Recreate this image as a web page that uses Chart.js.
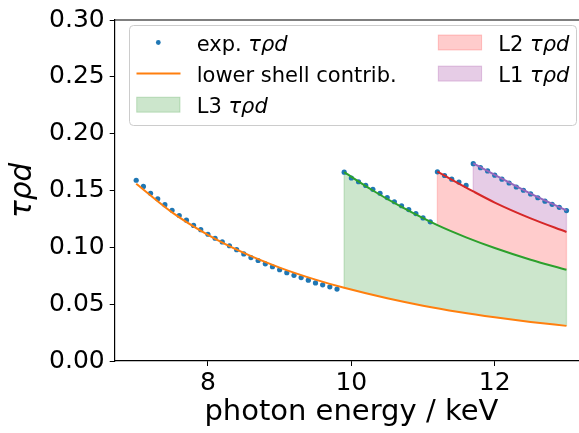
<!DOCTYPE html>
<html>
<head>
<meta charset="utf-8">
<script src="https://cdn.jsdelivr.net/npm/chart.js@4.4.1/dist/chart.umd.min.js"></script>
<style>
html, body { margin: 0; padding: 0; overflow: hidden; background: #fff; }
#wrap { width: 600px; height: 433px; }
</style>
</head>
<body>
<div id="wrap"><canvas id="chart" width="600" height="433"></canvas></div>
<script>
// measured tau*rho*d, photon energy in keV
const expEnergy = [
    7.0, 7.1, 7.2, 7.3, 7.4, 7.5, 7.6, 7.7, 7.8, 7.9,
    8.0, 8.1, 8.2, 8.3, 8.4, 8.5, 8.6, 8.7, 8.8, 8.9,
    9.0, 9.1, 9.2, 9.3, 9.4, 9.5, 9.6, 9.7, 9.8,
    9.9, 10.0, 10.1, 10.2, 10.3, 10.4, 10.5, 10.6, 10.7, 10.8, 10.9, 11.0, 11.1,
    11.2, 11.3, 11.4, 11.5, 11.6,
    11.7, 11.8, 11.9, 12.0, 12.1, 12.2, 12.3, 12.4, 12.5, 12.6, 12.7, 12.8, 12.9, 13.0
];
const expTau = [
    0.159, 0.1536, 0.1476, 0.1427, 0.1375, 0.1326, 0.128, 0.1239, 0.1193, 0.1155,
    0.1115, 0.108, 0.1048, 0.1014, 0.0979, 0.0942, 0.091, 0.0884, 0.0855, 0.0829,
    0.0803, 0.0777, 0.0754, 0.0734, 0.0711, 0.0687, 0.067, 0.0653, 0.0633,
    0.1661, 0.161, 0.1577, 0.1545, 0.151, 0.1476, 0.1438, 0.1401, 0.1366, 0.1332, 0.1297, 0.1259, 0.1224,
    0.1664, 0.1632, 0.16, 0.1574, 0.1545,
    0.1736, 0.1701, 0.1672, 0.1635, 0.16, 0.1566, 0.1531, 0.1502, 0.147, 0.1436, 0.1406, 0.1378, 0.1352, 0.1323
];

// model curves
const lowerE = [7.0, 7.5, 8.0, 8.5, 9.0, 9.5, 9.9, 10.5, 11.0, 11.5, 12.0, 12.5, 13.0];
const lowerTau = [0.156, 0.1308, 0.111, 0.0951, 0.0822, 0.0716, 0.0644, 0.0552, 0.0487, 0.0432, 0.0385, 0.0344, 0.0309];
const l3E = [9.9, 10.3, 10.7, 11.2, 11.6, 12.0, 12.5, 13.0];
const l3Tau = [0.1661, 0.150, 0.1355, 0.1195, 0.1088, 0.0994, 0.0891, 0.0803];
const l2E = [11.2, 11.7, 12.0, 12.5, 13.0];
const l2Tau = [0.1666, 0.1492, 0.1394, 0.1255, 0.1135];
const l1E = [11.7, 12.0, 12.5, 13.0];
const l1Tau = [0.1739, 0.1638, 0.1473, 0.1325];

const xTicks = [8, 10, 12];
const yTicks = [0, 0.05, 0.10, 0.15, 0.20, 0.25, 0.30];

const FONT = 'DejaVu Sans';

function pts(xs, ys) {
    return xs.map((x, i) => ({ x: x, y: ys[i] }));
}

function curve(xs, ys, color, fillTo, fillColor, order) {
    return {
        data: pts(xs, ys),
        showLine: true,
        borderColor: color,
        borderWidth: 2,
        pointRadius: 0,
        cubicInterpolationMode: 'monotone',
        fill: fillTo,
        backgroundColor: fillColor,
        order: order
    };
}

// edges of the filled bands (fill_between draws an outline)
const bandEdges = {
    id: 'bandEdges',
    beforeDatasetsDraw(chart) {
        const ctx = chart.ctx;
        const xs = chart.scales.x, ys = chart.scales.y;
        const pairs = [[3, 4], [2, 3], [1, 2]];
        ctx.save();
        for (const [up, lo] of pairs) {
            const upData = chart.data.datasets[up].data;
            const loData = chart.data.datasets[lo].data;
            ctx.strokeStyle = chart.data.datasets[up].backgroundColor;
            ctx.lineWidth = 1.3;
            for (const p of [upData[0], upData[upData.length - 1]]) {
                const q = loData.find(d => Math.abs(d.x - p.x) < 1e-9);
                if (!q) continue;
                const px = xs.getPixelForValue(p.x);
                ctx.beginPath();
                ctx.moveTo(px, ys.getPixelForValue(p.y));
                ctx.lineTo(px, ys.getPixelForValue(q.y));
                ctx.stroke();
            }
        }
        ctx.restore();
    }
};

function drawLabel(ctx, x, y, plain, italic) {
    ctx.font = '21px "' + FONT + '"';
    ctx.fillText(plain, x, y);
    const w = ctx.measureText(plain).width;
    if (italic) {
        ctx.font = 'italic 21px "' + FONT + '"';
        ctx.fillText(italic, x + w, y);
    }
}

const boxLegend = {
    id: 'boxLegend',
    afterDraw(chart) {
        const ctx = chart.ctx;
        const area = chart.chartArea;
        ctx.save();
        // top spine
        ctx.strokeStyle = '#000';
        ctx.lineWidth = 1.2;
        ctx.beginPath();
        ctx.moveTo(area.left, area.top);
        ctx.lineTo(area.right, area.top);
        ctx.lineTo(area.right, area.bottom);
        ctx.stroke();

        ctx.beginPath();
        ctx.roundRect(129.5, 25.5, 447, 100, 4);
        ctx.fillStyle = 'rgba(255,255,255,0.8)';
        ctx.fill();
        ctx.strokeStyle = '#cccccc';
        ctx.lineWidth = 1;
        ctx.stroke();

        const rows = [50.5, 81.6, 112.7];
        ctx.fillStyle = '#000';
        ctx.textBaseline = 'alphabetic';
        ctx.textAlign = 'left';

        // exp points
        ctx.fillStyle = '#1f77b4';
        ctx.beginPath();
        ctx.arc(158.3, rows[0] - 8, 2.4, 0, Math.PI * 2);
        ctx.fill();
        ctx.fillStyle = '#000';
        drawLabel(ctx, 196.7, rows[0], 'exp. ', 'τρd');

        // lower shell line
        ctx.strokeStyle = '#ff7f0e';
        ctx.lineWidth = 2;
        ctx.beginPath();
        ctx.moveTo(136.5, rows[1] - 8);
        ctx.lineTo(180.5, rows[1] - 8);
        ctx.stroke();
        drawLabel(ctx, 196.7, rows[1], 'lower shell contrib.', '');

        const patches = [
            [136.7, rows[2], 'rgba(0,128,0,0.2)', 'L3 '],
            [438.3, rows[0], 'rgba(255,0,0,0.2)', 'L2 '],
            [438.3, rows[1], 'rgba(128,0,128,0.2)', 'L1 ']
        ];
        for (const [x, y, c, t] of patches) {
            ctx.fillStyle = c;
            ctx.fillRect(x, y - 15.5, 43.3, 15);
            ctx.strokeStyle = c;
            ctx.lineWidth = 1;
            ctx.strokeRect(x, y - 15.5, 43.3, 15);
            ctx.fillStyle = '#000';
            drawLabel(ctx, x + 60, y, t, 'τρd');
        }
        ctx.restore();
    }
};

document.addEventListener('DOMContentLoaded', function () {
    const ctx = document.getElementById('chart').getContext('2d');
    new Chart(ctx, {
        type: 'scatter',
        data: {
            datasets: [
                {
                    data: pts(expEnergy, expTau),
                    showLine: false,
                    pointRadius: 2.6,
                    pointBorderWidth: 0,
                    pointBackgroundColor: '#1f77b4',
                    order: 10
                },
                curve(l1E, l1Tau, '#9467bd', 2, 'rgba(128,0,128,0.2)', 1),
                curve(l2E, l2Tau, '#d62728', 3, 'rgba(255,0,0,0.2)', 2),
                curve(l3E, l3Tau, '#2ca02c', 4, 'rgba(0,128,0,0.2)', 3),
                curve(lowerE, lowerTau, '#ff7f0e', false, 'transparent', 4)
            ]
        },
        options: {
            responsive: false,
            animation: false,
            devicePixelRatio: 1,
            layout: { padding: { top: 14.7, right: 12, bottom: 0, left: 0 } },
            plugins: {
                legend: { display: false },
                tooltip: { enabled: false },
                filler: { drawTime: 'beforeDatasetsDraw' }
            },
            scales: {
                x: {
                    type: 'linear',
                    min: 6.7,
                    max: 13.3,
                    afterBuildTicks: s => { s.ticks = xTicks.map(v => ({ value: v })); },
                    afterFit: s => { s.height = 72; },
                    ticks: {
                        font: { family: FONT, size: 25 },
                        color: '#000',
                        padding: 2,
                        maxRotation: 0,
                        autoSkip: false
                    },
                    grid: { drawOnChartArea: false, tickLength: 5, tickColor: '#000', tickWidth: 1 },
                    border: { color: '#000', width: 1.2 },
                    title: {
                        display: true,
                        text: 'photon energy / keV',
                        color: '#000',
                        font: { family: FONT, size: 29 },
                        padding: { top: 0, bottom: 3 }
                    }
                },
                y: {
                    min: 0,
                    max: 0.3,
                    afterBuildTicks: s => { s.ticks = yTicks.map(v => ({ value: v })); },
                    afterFit: s => { s.width = 114.7; },
                    ticks: {
                        font: { family: FONT, size: 25 },
                        color: '#000',
                        padding: 5,
                        callback: v => v.toFixed(2)
                    },
                    grid: { drawOnChartArea: false, tickLength: 5, tickColor: '#000', tickWidth: 1 },
                    border: { color: '#000', width: 1.2 },
                    title: {
                        display: true,
                        text: 'τρd',
                        color: '#000',
                        font: { family: FONT, size: 29.5, style: 'italic' },
                        padding: { top: 6, bottom: 0 }
                    }
                }
            }
        },
        plugins: [bandEdges, boxLegend]
    });
});
</script>
</body>
</html>
